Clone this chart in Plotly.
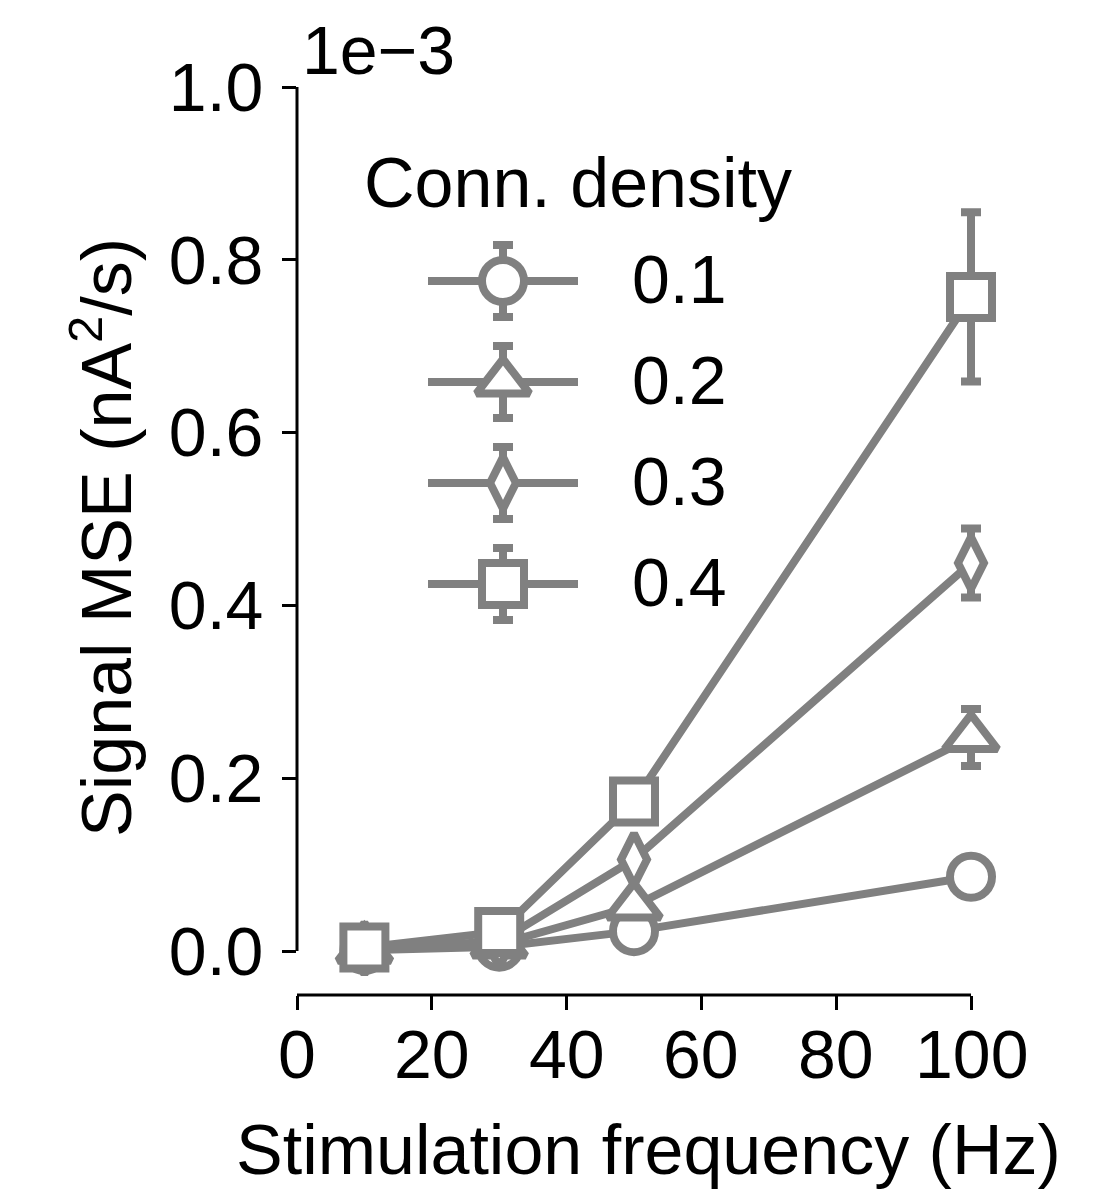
import plotly.graph_objects as go

# ---------------- data (values in units of 1e-3) ----------------
freqs = [10, 30, 50, 100]
densities = ["0.1", "0.2", "0.3", "0.4"]
mse_01 = [0.001, 0.005, 0.023, 0.086]
err_01 = [0.001, 0.002, 0.004, 0.008]
mse_02 = [0.002, 0.008, 0.052, 0.247]
err_02 = [0.001, 0.003, 0.008, 0.033]
mse_03 = [0.003, 0.011, 0.106, 0.449]
err_03 = [0.001, 0.003, 0.012, 0.040]
mse_04 = [0.004, 0.022, 0.173, 0.757]
err_04 = [0.002, 0.005, 0.015, 0.098]
x_ticks = [0, 20, 40, 60, 80, 100]
y_ticks = [0.0, 0.2, 0.4, 0.6, 0.8, 1.0]

series_vals = [mse_01, mse_02, mse_03, mse_04]
series_errs = [err_01, err_02, err_03, err_04]

# ---------------- styles ----------------
W, H = 1101, 1196
GRAY = "#808080"
FONT = "Liberation Sans, Arial, Helvetica, sans-serif"
TICK_FS = 68
LABEL_FS = 70
LW = 8
symbols = ["circle", "triangle-up", "diamond-tall", "square"]
msizes = [42, 46, 37, 42]

# plot geometry in pixels (0..100 Hz -> 297..971 px, 0..1 -> 951..87 px)
X0_PX, X100_PX = 297, 971
Y0_PX, Y1_PX = 951, 87
XAXIS_PX = 995
X_RANGE = [0, 106]
Y_RANGE = [-0.06, 1.0]
px_per_x = (X100_PX - X0_PX) / 100.0
px_per_y = (Y0_PX - Y1_PX) / 1.0
x_dom = [X0_PX / W, (X0_PX + px_per_x * X_RANGE[1]) / W]
y_dom = [1 - (Y0_PX - px_per_y * Y_RANGE[0]) / H, 1 - Y1_PX / H]

fig = go.Figure()

for vals, errs, sym, ms, name in zip(series_vals, series_errs, symbols, msizes, densities):
    fig.add_trace(go.Scatter(
        x=freqs, y=vals, name=name, mode="lines+markers",
        line=dict(color=GRAY, width=LW),
        marker=dict(symbol=sym, size=ms, color="white",
                    line=dict(color=GRAY, width=LW)),
        error_y=dict(type="data", array=errs, visible=True, color=GRAY,
                     thickness=LW, width=10),
        cliponaxis=False, showlegend=False,
    ))

# spines trimmed to the tick range (drawn as paper shapes so they are not clipped)
fig.add_shape(type="line", xref="paper", yref="paper",
              x0=X0_PX / W, x1=X0_PX / W, y0=1 - Y0_PX / H, y1=1 - Y1_PX / H,
              line=dict(color="black", width=3))
fig.add_shape(type="line", xref="paper", yref="paper",
              x0=X0_PX / W, x1=X100_PX / W,
              y0=1 - XAXIS_PX / H, y1=1 - XAXIS_PX / H,
              line=dict(color="black", width=3))

# x tick labels
for v in x_ticks:
    fig.add_annotation(x=v, y=1 - 1054 / H, xref="x", yref="paper", text=str(v),
                       showarrow=False, xanchor="center", yanchor="middle",
                       font=dict(family=FONT, size=TICK_FS, color="black"))

# ---------------- custom legend (pixel coordinate helper axis) ----------------
LEG_X_LINE0, LEG_X_LINE1, LEG_X_MARK = 428, 578, 503
LEG_Y0, LEG_DY = 281, 101
LEG_ERR = 36
LEG_TEXT_X = 630
for i, (sym, ms, name) in enumerate(zip(symbols, msizes, densities)):
    yy = LEG_Y0 + i * LEG_DY
    fig.add_trace(go.Scatter(
        x=[LEG_X_LINE0, LEG_X_LINE1], y=[yy, yy], mode="lines",
        line=dict(color=GRAY, width=LW), xaxis="x2", yaxis="y2",
        showlegend=False, hoverinfo="skip", cliponaxis=False))
    fig.add_trace(go.Scatter(
        x=[LEG_X_MARK], y=[yy], mode="markers",
        marker=dict(symbol=sym, size=ms, color="white",
                    line=dict(color=GRAY, width=LW)),
        error_y=dict(type="data", array=[LEG_ERR], visible=True, color=GRAY,
                     thickness=LW, width=10),
        xaxis="x2", yaxis="y2", showlegend=False, hoverinfo="skip", cliponaxis=False))
    fig.add_annotation(x=LEG_TEXT_X, y=yy - 2, xref="x2", yref="y2", text=name,
                       showarrow=False, xanchor="left", yanchor="middle",
                       font=dict(family=FONT, size=TICK_FS, color="black"))

fig.add_annotation(x=362, y=183, xref="x2", yref="y2", text="Conn. density",
                   showarrow=False, xanchor="left", yanchor="middle",
                   font=dict(family=FONT, size=LABEL_FS, color="black"))

# axis labels and offset text
fig.add_annotation(x=648, y=1150, xref="x2", yref="y2", text="Stimulation frequency (Hz)",
                   showarrow=False, xanchor="center", yanchor="middle",
                   font=dict(family=FONT, size=LABEL_FS, color="black"))
fig.add_annotation(x=102, y=538, xref="x2", yref="y2", text="Signal MSE (nA<sup>2</sup>/s)",
                   showarrow=False, xanchor="center", yanchor="middle", textangle=-90,
                   font=dict(family=FONT, size=LABEL_FS, color="black"))
fig.add_annotation(x=300, y=50, xref="x2", yref="y2", text="1e\u22123",
                   showarrow=False, xanchor="left", yanchor="middle",
                   font=dict(family=FONT, size=TICK_FS, color="black"))

fig.update_layout(
    width=W, height=H,
    margin=dict(l=0, r=0, t=0, b=0),
    paper_bgcolor="white", plot_bgcolor="rgba(0,0,0,0)",
    font=dict(family=FONT, size=TICK_FS, color="black"),
    xaxis=dict(
        domain=x_dom, range=X_RANGE,
        anchor="free", position=1 - XAXIS_PX / H,
        tickmode="array", tickvals=x_ticks, showticklabels=False,
        ticks="outside", ticklen=14, tickwidth=3, tickcolor="black",
        showline=False, showgrid=False, zeroline=False, automargin=False,
    ),
    yaxis=dict(
        domain=y_dom, range=Y_RANGE,
        anchor="x",
        tickmode="array", tickvals=y_ticks, ticktext=[f"{v:.1f}" for v in y_ticks],
        ticks="outside", ticklen=14, tickwidth=3, tickcolor="black",
        ticklabelstandoff=5,
        showline=False, showgrid=False, zeroline=False, automargin=False,
        tickfont=dict(family=FONT, size=TICK_FS, color="black"),
    ),
    xaxis2=dict(domain=[0, 1], range=[0, W], anchor="y2", visible=False,
                fixedrange=True),
    yaxis2=dict(domain=[0, 1], range=[H, 0], anchor="x2", visible=False,
                fixedrange=True),
)

fig.write_html("out.html")
